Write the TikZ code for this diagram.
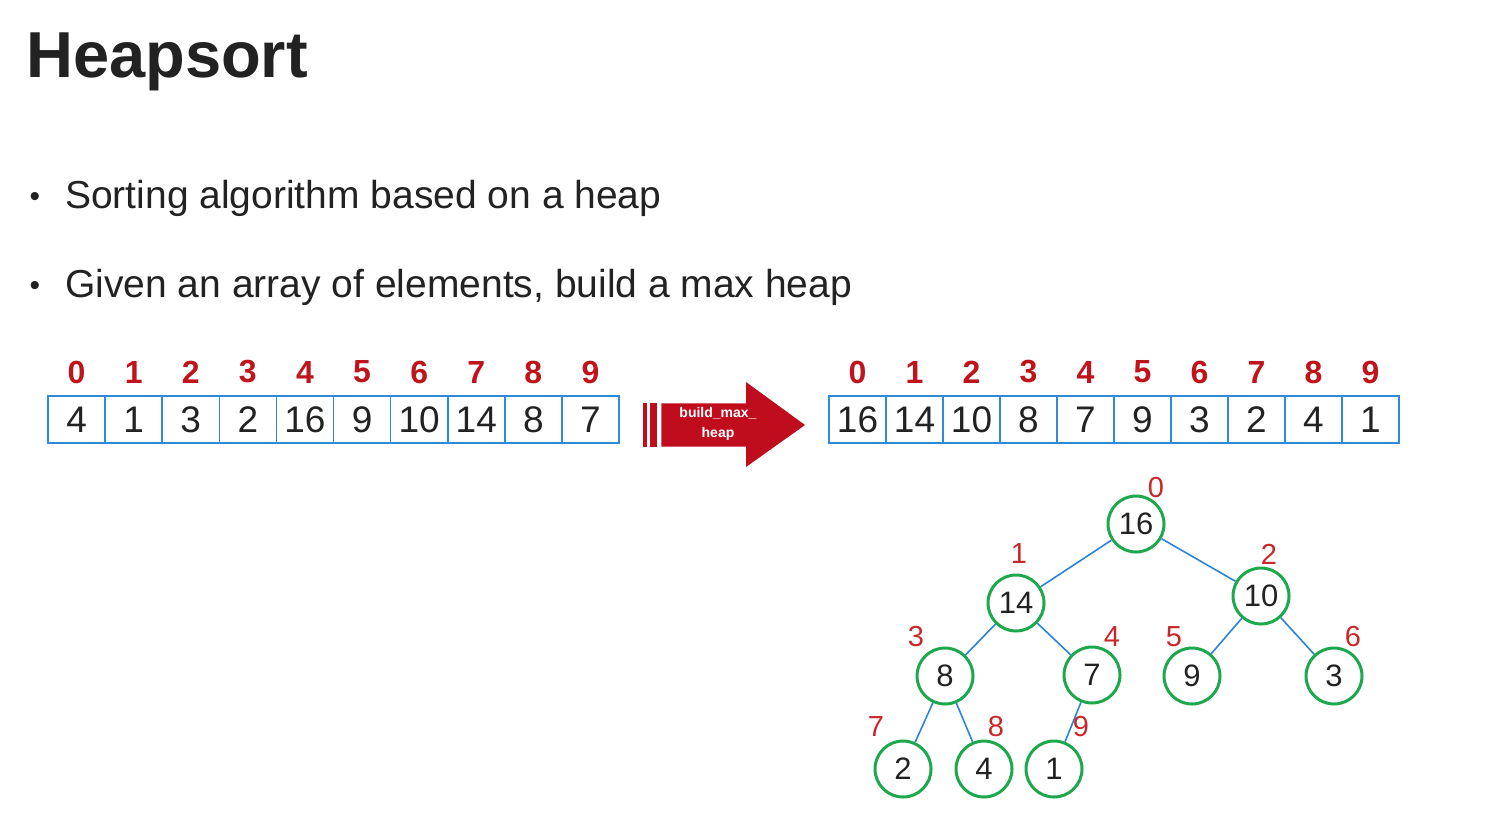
\documentclass[tikz,border=0pt]{standalone}
\usepackage{fontspec}
\setmainfont{Liberation Sans}
\definecolor{txt}{HTML}{222222}
\definecolor{idxred}{HTML}{C0141C}
\definecolor{lblred}{HTML}{C8282A}
\definecolor{arrred}{HTML}{C00D1E}
\definecolor{cellblue}{HTML}{2F8AD8}
\definecolor{edgeblue}{HTML}{2A85D8}
\definecolor{nodegreen}{HTML}{1EA84D}
\tikzset{
  cell/.style={draw=cellblue, line width=1.5pt, minimum width=57pt, minimum height=47pt, inner sep=0pt, text=txt, font=\fontsize{37}{40}\selectfont},
  idx/.style={text=idxred, font=\fontsize{32}{34}\selectfont\bfseries, inner sep=0pt},
  hnode/.style={circle, draw=nodegreen, line width=3pt, minimum size=56pt, inner sep=0pt, text=txt, font=\fontsize{31}{33}\selectfont},
  hlbl/.style={text=lblred, font=\fontsize{29}{30}\selectfont, inner sep=0pt},
  hedge/.style={draw=edgeblue, line width=1.6pt},
  bullettext/.style={anchor=west, text=txt, inner sep=0pt, font=\fontsize{39}{42}\selectfont},
}
\begin{document}
\begin{tikzpicture}[x=1pt, y=-1pt]
\useasboundingbox (0,0) rectangle (1504,814);
% title
\node[anchor=west, text=txt, inner sep=0pt, font=\fontsize{65}{70}\selectfont\bfseries] (title) at (26,62) {Heapsort};
% bullets
\node[text=txt, inner sep=0pt, font=\fontsize{30}{30}\selectfont] (b1) at (35,199) {•};
\node[bullettext] (t1) at (65,198) {Sorting algorithm based on a heap};
\node[text=txt, inner sep=0pt, font=\fontsize{30}{30}\selectfont] (b2) at (35,288) {•};
\node[bullettext] (t2) at (65,287) {Given an array of elements, build a max heap};
% left array
\foreach \v [count=\i from 0] in {4,1,3,2,16,9,10,14,8,7} {
  \node[cell] (l\i) at ({48+28.55+57.1*\i},419.5) {\v};
  \node[idx] (li\i) at ({48+28.55+57.1*\i},372) {\i};
}
% right array
\foreach \v [count=\i from 0] in {16,14,10,8,7,9,3,2,4,1} {
  \node[cell] (r\i) at ({829+28.5+57*\i},419.5) {\v};
  \node[idx] (ri\i) at ({829+28.5+57*\i},372) {\i};
}
% arrow
\fill[arrred] (642.7,403.3) rectangle (647.3,446.7);
\fill[arrred] (650.3,403.3) rectangle (657.3,446.7);
\fill[arrred] (661.3,403.3) -- (746,403.3) -- (746,382) -- (805,425) -- (746,467) -- (746,446.7) -- (661.3,446.7) -- cycle;
\node[text=white, align=center, inner sep=0pt, font=\fontsize{14}{20}\selectfont\bfseries] (arrtext) at (718,424) {build\_max\_\\heap};
% tree
\node[hnode] (n0) at (1136,524) {16};
\node[hnode] (n1) at (1016,603) {14};
\node[hnode] (n2) at (1261,596) {10};
\node[hnode] (n3) at (945,676) {8};
\node[hnode] (n4) at (1092,675) {7};
\node[hnode] (n5) at (1192,676) {9};
\node[hnode] (n6) at (1334,676) {3};
\node[hnode] (n7) at (903,769) {2};
\node[hnode] (n8) at (984,769) {4};
\node[hnode] (n9) at (1054,769) {1};
\draw[hedge] (n0) -- (n1);
\draw[hedge] (n0) -- (n2);
\draw[hedge] (n1) -- (n3);
\draw[hedge] (n1) -- (n4);
\draw[hedge] (n2) -- (n5);
\draw[hedge] (n2) -- (n6);
\draw[hedge] (n3) -- (n7);
\draw[hedge] (n3) -- (n8);
\draw[hedge] (n4) -- (n9);
% tree labels
\node[hlbl] (m0) at (1156,488) {0};
\node[hlbl] (m1) at (1019,554) {1};
\node[hlbl] (m2) at (1269,554) {2};
\node[hlbl] (m3) at (916,637) {3};
\node[hlbl] (m4) at (1112,637) {4};
\node[hlbl] (m5) at (1174,637) {5};
\node[hlbl] (m6) at (1353,637) {6};
\node[hlbl] (m7) at (876,727) {7};
\node[hlbl] (m8) at (996,727) {8};
\node[hlbl] (m9) at (1081,727) {9};
\end{tikzpicture}
\end{document}
